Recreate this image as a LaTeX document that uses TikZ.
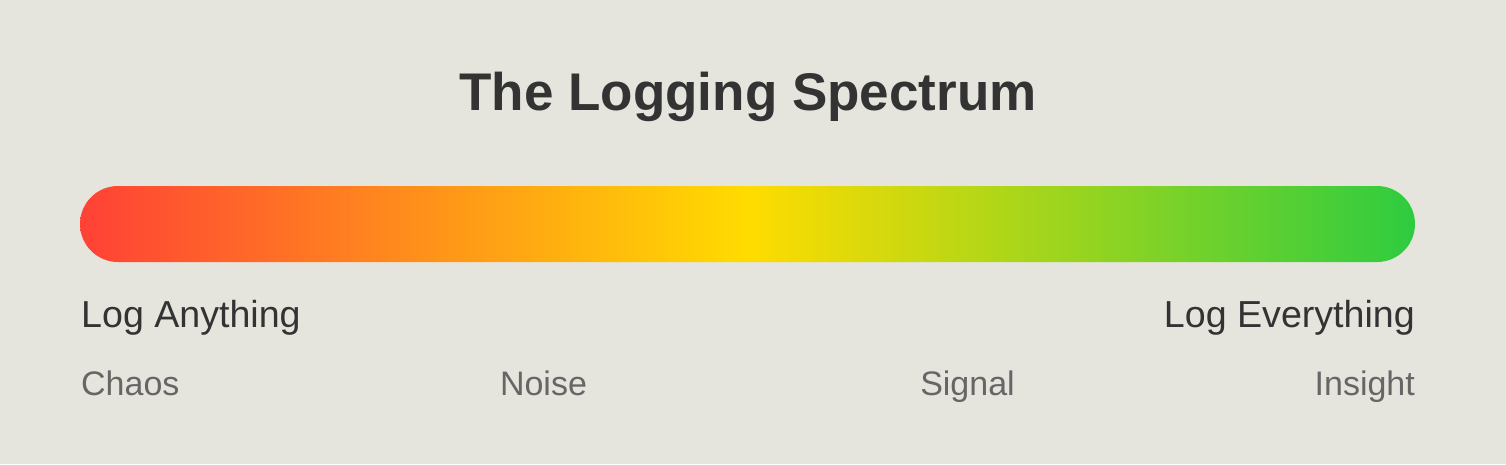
\documentclass[tikz,border=0pt]{standalone}
\usepackage{fontspec}
\setmainfont{Liberation Sans}
\definecolor{bgc}{HTML}{E5E4DD}
\definecolor{darktext}{HTML}{333333}
\definecolor{graytext}{HTML}{666666}
\definecolor{cred}{HTML}{FF4136}
\definecolor{cyellow}{HTML}{FFDC00}
\definecolor{cgreen}{HTML}{2ECC40}
\pgfdeclarehorizontalshading{spectrum}{100bp}{color(0bp)=(cred); color(25bp)=(cred); color(50bp)=(cyellow); color(75bp)=(cgreen); color(100bp)=(cgreen)}
\begin{document}
\begin{tikzpicture}[x=1pt,y=-1pt,
  titletext/.style={inner sep=0pt, text=darktext, font=\fontsize{53}{60}\selectfont\bfseries},
  endlabel/.style={inner sep=0pt, text=darktext, font=\fontsize{37.6}{42}\selectfont},
  steplabel/.style={inner sep=0pt, text=graytext, font=\fontsize{34}{40}\selectfont}]
\fill[bgc] (0,0) rectangle (1506,464);
\useasboundingbox (0,0) rectangle (1506,464);
\node[titletext, anchor=base] (title) at (748,110) {The Logging Spectrum};
\path[shading=spectrum, rounded corners=38pt] (80,186) rectangle (1415,262);
\node[endlabel, anchor=base west] (anything) at (81,327) {Log Anything};
\node[endlabel, anchor=base east] (everything) at (1415,327) {Log Everything};
\node[steplabel, anchor=base west] (chaos) at (81,395.5) {Chaos};
\node[steplabel, anchor=base] (noise) at (543.5,395.5) {Noise};
\node[steplabel, anchor=base] (signal) at (967.5,395.5) {Signal};
\node[steplabel, anchor=base east] (insight) at (1415,395.5) {Insight};
\end{tikzpicture}
\end{document}
